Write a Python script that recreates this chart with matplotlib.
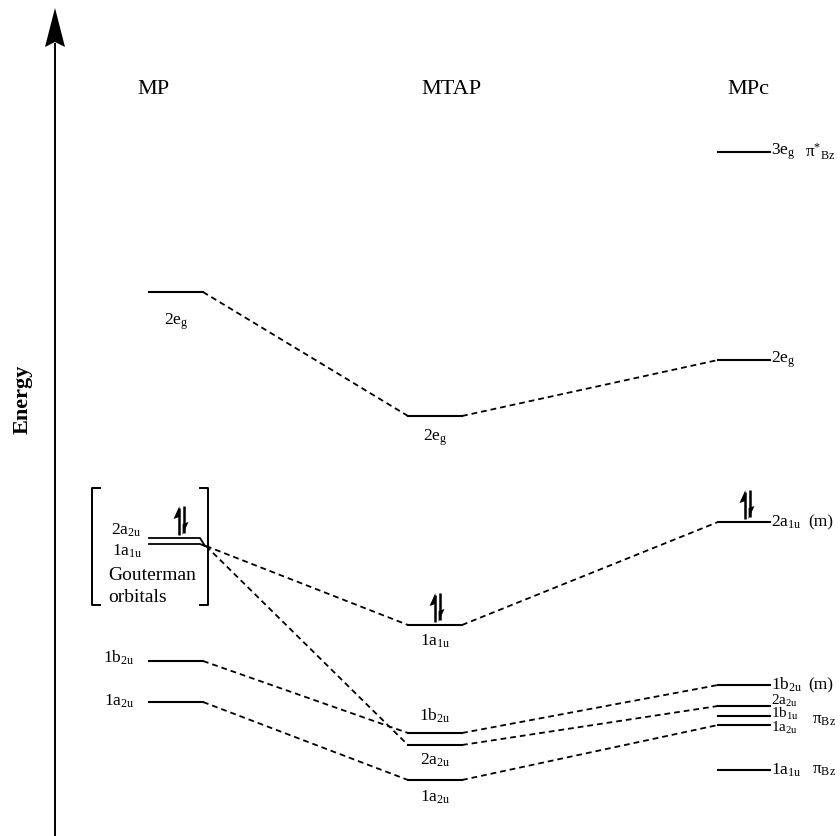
"""
MO energy diagram: MP -> MTAP -> MPc (frontier orbitals).
Output: out.png
"""

import matplotlib.pyplot as plt
from matplotlib.patches import Polygon

plt.rcParams["font.family"] = ["Liberation Serif", "DejaVu Serif"]
plt.rcParams["mathtext.fontset"] = "custom"
plt.rcParams["mathtext.rm"] = "Liberation Serif"
plt.rcParams["mathtext.it"] = "Liberation Serif:italic"
plt.rcParams["mathtext.bf"] = "Liberation Serif:bold"

# ── Data: orbital energies (arbitrary units, higher = less bound) ─────────────

MP_LABELS = [r"2e$_{\rm g}$", r"2a$_{\rm 2u}$", r"1a$_{\rm 1u}$", r"1b$_{\rm 2u}$", r"1a$_{\rm 2u}$"]
MP_E      = [544, 298, 292, 175, 134]

MTAP_LABELS = [r"2e$_{\rm g}$", r"1a$_{\rm 1u}$", r"1b$_{\rm 2u}$", r"2a$_{\rm 2u}$", r"1a$_{\rm 2u}$"]
MTAP_E      = [420, 211, 103, 91, 56]

MPC_LABELS = [r"3e$_{\rm g}$", r"2e$_{\rm g}$", r"2a$_{\rm 1u}$", r"1b$_{\rm 2u}$",
              r"2a$_{\rm 2u}$", r"1b$_{\rm 1u}$", r"1a$_{\rm 2u}$", r"1a$_{\rm 1u}$"]
MPC_E      = [684, 476, 314, 151, 130, 120, 111, 66]
MPC_NOTES  = [r"π$^{*}{}_{\rm Bz}$", "", "(m)", "(m)", "", "", r"π$_{\rm Bz}$", r"π$_{\rm Bz}$"]

# correlations (MP index -> MTAP index), (MTAP index -> MPc index)
MP_TO_MTAP  = [(0, 0), (2, 1), (1, 3), (3, 2), (4, 4)]
MTAP_TO_MPC = [(0, 1), (1, 2), (2, 3), (3, 4), (4, 6)]

# ── Layout ────────────────────────────────────────────────────────────────────

H = 836
X_SPAN = {"MP": (149, 203), "MTAP": (408, 462), "MPc": (718, 770)}
LEVEL_LW = 1.5
DASH = dict(color="black", lw=1.3, linestyle=(0, (3.2, 2.2)))
LBL = 12.5


def E(y_px):
    return H - y_px


def spin_pair(ax, xc, e0):
    h, head, w = 29, 13, 5
    xu, xd = xc - 2.5, xc + 2.5
    b, t = e0 + 3, e0 + 3 + h
    ax.plot([xu, xu], [b, t - 2], color="black", lw=1.8, solid_capstyle="butt")
    ax.add_patch(Polygon([(xu + 0.9, t), (xu - w, t - head), (xu + 0.9, t - head + 2)],
                         closed=True, color="black", lw=0))
    ax.plot([xd, xd], [b + 2, t], color="black", lw=1.8, solid_capstyle="butt")
    ax.add_patch(Polygon([(xd - 0.9, b), (xd + w, b + head), (xd - 0.9, b + head - 2)],
                         closed=True, color="black", lw=0))


fig = plt.figure(figsize=(8.4, 8.36), dpi=100)
ax = fig.add_axes([0, 0, 1, 1])
ax.set_xlim(0, 840)
ax.set_ylim(0, H)
ax.axis("off")

# energy axis
ax.plot([55, 55], [0, E(44)], color="black", lw=1.4)
ax.add_patch(Polygon([(55, E(8)), (65, E(47)), (55, E(42)), (45, E(47))], closed=True, color="black", lw=0))
ax.text(23, E(399), "Energy", rotation=90, ha="center", va="center", fontsize=16, fontweight="bold")

# column titles
ax.text(137, E(90), "MP", ha="left", va="center", fontsize=16)
ax.text(421, E(90), "MTAP", ha="left", va="center", fontsize=16)
ax.text(727, E(90), "MPc", ha="left", va="center", fontsize=16)

# ── MP column ──
x0, x1 = X_SPAN["MP"]
mp_join = {}
for i, (lab, e) in enumerate(zip(MP_LABELS, MP_E)):
    if i in (1, 2):  # Gouterman pair: bend into one joint
        ax.plot([x0, x1 - 3, x1 + 2], [e, e, MP_E[2] - 2], color="black", lw=1.3)
        mp_join[i] = (x1 + 3, MP_E[2] - 2)
    else:
        ax.plot([x0, x1], [e, e], color="black", lw=LEVEL_LW)
        mp_join[i] = (x1, e)
ax.text(176, MP_E[0] - 30, MP_LABELS[0], ha="center", va="center", fontsize=LBL)
ax.text(141, MP_E[1] + 8, MP_LABELS[1], ha="right", va="center", fontsize=LBL)
ax.text(142, MP_E[2] - 7, MP_LABELS[2], ha="right", va="center", fontsize=LBL)
ax.text(134, MP_E[3] + 3, MP_LABELS[3], ha="right", va="center", fontsize=LBL)
ax.text(134, MP_E[4] + 1, MP_LABELS[4], ha="right", va="center", fontsize=LBL)
ax.text(108, E(575), "Gouterman", ha="left", va="center", fontsize=14)
ax.text(108, E(598), "orbitals", ha="left", va="center", fontsize=14)

# brackets around the Gouterman orbitals
top, bot = E(488), E(605)
ax.plot([100, 92, 92, 100], [top, top, bot, bot], color="black", lw=1.4)
ax.plot([200, 208, 208, 200], [top, top, bot, bot], color="black", lw=1.4)

# ── MTAP column ──
x0, x1 = X_SPAN["MTAP"]
mtap_offset = [-22, -16, 17, -15, -17]
for lab, e, off in zip(MTAP_LABELS, MTAP_E, mtap_offset):
    ax.plot([x0, x1], [e, e], color="black", lw=LEVEL_LW)
    ax.text((x0 + x1) / 2, e + off, lab, ha="center", va="center", fontsize=LBL)

# ── MPc column ──
x0, x1 = X_SPAN["MPc"]
mpc_dy = [0, 0, 0, 0, 5, 2, -3, 0]
for k, (lab, e, note, dy) in enumerate(zip(MPC_LABELS, MPC_E, MPC_NOTES, mpc_dy)):
    ax.plot([x0, x1], [e, e], color="black", lw=LEVEL_LW)
    fs = 11 if k in (4, 5, 6) else LBL  # tightly stacked trio
    ax.text(x1 + 1, e + dy, lab, ha="left", va="center", fontsize=fs)
    if note:
        nx = {0: 805}.get(k, 808 if note == "(m)" else 812)
        ny = e + 5 if k == 6 else e
        ax.text(nx, ny, note, ha="left", va="center", fontsize=LBL)

# ── correlation lines ──
for i, j in MP_TO_MTAP:
    xa, ya = mp_join[i]
    ax.plot([xa, X_SPAN["MTAP"][0]], [ya, MTAP_E[j]], **DASH)
for i, j in MTAP_TO_MPC:
    ax.plot([X_SPAN["MTAP"][1], X_SPAN["MPc"][0]], [MTAP_E[i], MPC_E[j]], **DASH)

# ── electron pairs ──
spin_pair(ax, 181, MP_E[1])
spin_pair(ax, 437, MTAP_E[1])
spin_pair(ax, 747, MPC_E[2])

fig.savefig("out.png", dpi=100)
plt.close(fig)
